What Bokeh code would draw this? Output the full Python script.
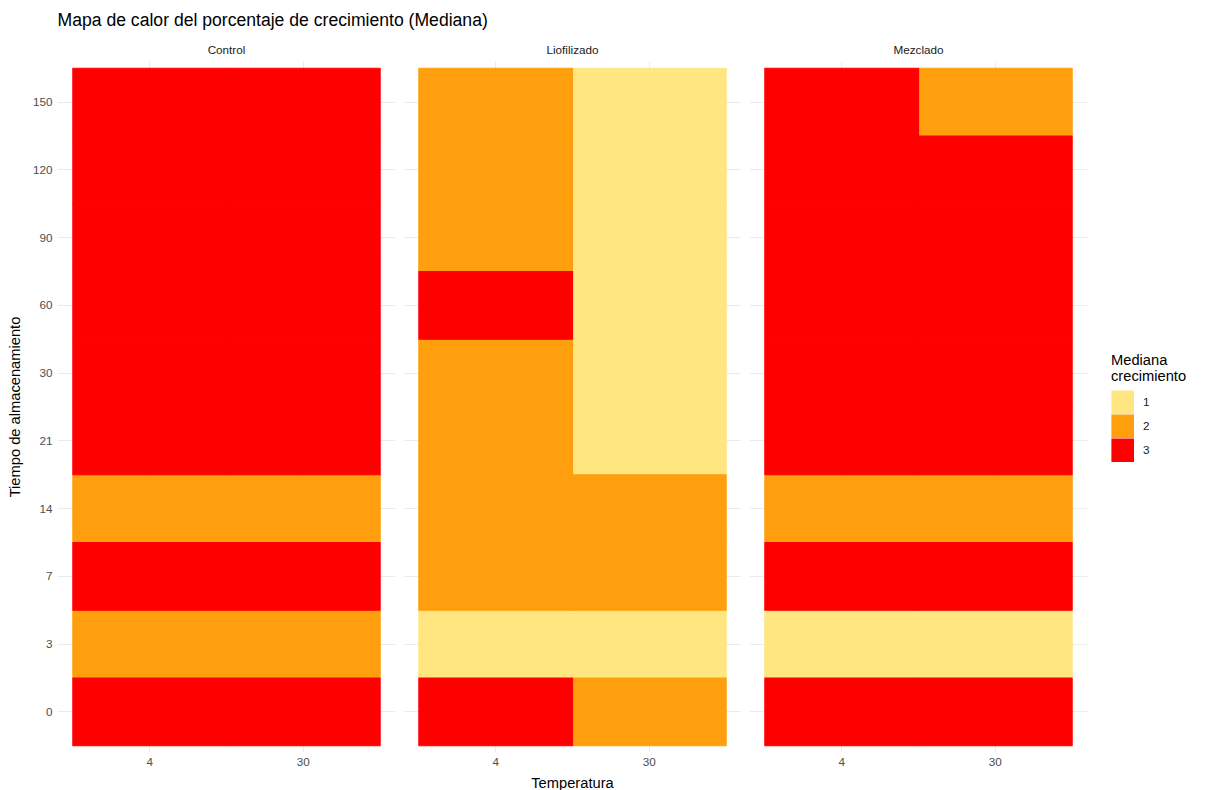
from bokeh.plotting import figure
from bokeh.layouts import row, column
from bokeh.models import FactorRange, ColumnDataSource, Legend, LegendItem
from bokeh.embed import file_html
from bokeh.resources import INLINE

# ---- data ----
groups = ["Control", "Liofilizado", "Mezclado"]
temps = ["4", "30"]
times = ["0", "3", "7", "14", "21", "30", "60", "90", "120", "150"]
levels = ["1", "2", "3"]
palette = ["#FFE680", "#FF9F0D", "#FF0000"]

control_4 = [3, 2, 3, 2, 3, 3, 3, 3, 3, 3]
control_30 = [3, 2, 3, 2, 3, 3, 3, 3, 3, 3]
liofilizado_4 = [3, 1, 2, 2, 2, 2, 3, 2, 2, 2]
liofilizado_30 = [2, 1, 2, 2, 1, 1, 1, 1, 1, 1]
mezclado_4 = [3, 1, 3, 2, 3, 3, 3, 3, 3, 3]
mezclado_30 = [3, 1, 3, 2, 3, 3, 3, 3, 3, 2]

values = {
    "Control": {"4": control_4, "30": control_30},
    "Liofilizado": {"4": liofilizado_4, "30": liofilizado_30},
    "Mezclado": {"4": mezclado_4, "30": mezclado_30},
}

FONT = "Liberation Sans"
FRAME_W, FRAME_H = 338, 691

# ---- title strip ----
tfig = figure(width=1206, height=35, output_backend="svg", toolbar_location=None,
              x_axis_location=None, y_axis_location=None,
              min_border_left=57, min_border_right=0, min_border_top=29,
              min_border_bottom=0)
tfig.grid.visible = False
tfig.outline_line_color = None
tfig.title.text = "Mapa de calor del porcentaje de crecimiento (Mediana)"
tfig.title.text_font = FONT
tfig.title.text_font_size = "17.6px"
tfig.title.text_font_style = "normal"
tfig.title.text_color = "black"
tfig.title.standoff = 0
tfig.title.offset = 0

panels = []
for i, g in enumerate(groups):
    is_first = i == 0
    is_mid = i == 1
    is_last = i == len(groups) - 1
    f = figure(frame_width=FRAME_W, frame_height=FRAME_H,
               x_range=FactorRange(factors=temps, range_padding=0.1),
               y_range=FactorRange(factors=times, range_padding=0.02),
               output_backend="svg", toolbar_location=None,
               y_axis_location="left" if is_first else None,
               min_border_left=57 if is_first else 8,
               min_border_right=119 if is_last else 0,
               min_border_top=23, min_border_bottom=38)
    f.outline_line_color = None
    f.title.text = g
    f.title.align = "center"
    f.title.text_font = FONT
    f.title.text_font_size = "11.7px"
    f.title.text_font_style = "normal"
    f.title.text_color = "#1A1A1A"
    f.title.standoff = 11

    xa = f.xaxis[0]
    if is_mid:
        xa.axis_label = "Temperatura"
        xa.axis_label_text_font = FONT
        xa.axis_label_text_font_size = "14.7px"
        xa.axis_label_text_font_style = "normal"
        xa.axis_label_text_color = "black"
        xa.axis_label_standoff = 6
    xa.major_label_text_font = FONT
    xa.major_label_text_font_size = "11.7px"
    xa.major_label_text_color = "#4D4D4D"
    xa.major_label_standoff = 5
    xa.axis_line_color = None
    xa.major_tick_line_color = None
    xa.minor_tick_line_color = None
    xa.major_tick_out = 0
    xa.major_tick_in = 0

    if is_first:
        ya = f.yaxis[0]
        ya.axis_label = "Tiempo de almacenamiento"
        ya.axis_label_text_font = FONT
        ya.axis_label_text_font_size = "14.7px"
        ya.axis_label_text_font_style = "normal"
        ya.axis_label_text_color = "black"
        ya.axis_label_standoff = 7
        ya.major_label_text_font = FONT
        ya.major_label_text_font_size = "11.7px"
        ya.major_label_text_color = "#4D4D4D"
        ya.major_label_standoff = 5
        ya.axis_line_color = None
        ya.major_tick_line_color = None
        ya.minor_tick_line_color = None
        ya.major_tick_out = 0
        ya.major_tick_in = 0

    f.xgrid.grid_line_color = "#EBEBEB"
    f.ygrid.grid_line_color = "#EBEBEB"
    f.xgrid.grid_line_width = 1
    f.ygrid.grid_line_width = 1

    cells = []
    for lev in levels:
        xs, ys = [], []
        for t in temps:
            for tm, v in zip(times, values[g][t]):
                if str(v) == lev:
                    xs.append(t)
                    ys.append(tm)
        cells.append((xs, ys))

    keys = []
    if is_last:
        # legend swatches: drawn first, hidden beneath a tile of the same level,
        # with a thick outline so each key fills its legend box
        for (xs, ys), col in zip(cells, palette):
            k = f.rect(x=xs[:1], y=ys[:1], width=0.5, height=0.5, fill_color=col,
                       line_color=col, line_width=4.8, line_join="miter")
            keys.append(k)

    for (xs, ys), col in zip(cells, palette):
        src = ColumnDataSource(dict(x=xs, y=ys))
        f.rect(x="x", y="y", width=1, height=1, source=src,
               fill_color=col, line_color=col, line_width=1.2)

    if is_last:
        legend = Legend(items=[LegendItem(label=l, renderers=[k]) for l, k in zip(levels, keys)],
                        title="Mediana\ncrecimiento", location="center_left",
                        glyph_width=23, glyph_height=24, label_height=24, spacing=0,
                        label_standoff=9, padding=0, margin=24,
                        border_line_color=None, background_fill_alpha=0,
                        title_text_font=FONT, title_text_font_size="14.7px",
                        title_text_font_style="normal", title_text_color="black",
                        title_standoff=6,
                        label_text_font=FONT, label_text_font_size="11.7px",
                        label_text_color="#1A1A1A")
        f.add_layout(legend, "right")
    panels.append(f)

layout = column(tfig, row(*panels))
open("out.html", "w").write(file_html(layout, INLINE))
